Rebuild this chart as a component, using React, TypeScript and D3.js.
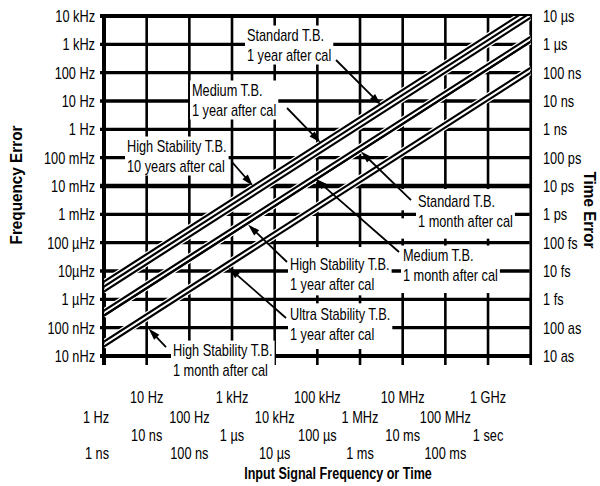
import React, { useEffect, useRef } from "react";
import * as d3 from "d3";

// ---- axis ticks (decades) ----
const errorTicks = [1e-8, 1e-7, 1e-6, 1e-5, 1e-4, 1e-3, 1e-2, 1e-1, 1, 10, 100, 1e3, 1e4];
const frequencyErrorLabels = ["10 nHz", "100 nHz", "1 µHz", "10µHz", "100 µHz", "1 mHz", "10 mHz", "100 mHz", "1 Hz", "10 Hz", "100 Hz", "1 kHz", "10 kHz"];
const timeErrorLabels = ["10 as", "100 as", "1 fs", "10 fs", "100 fs", "1 ps", "10 ps", "100 ps", "1 ns", "10 ns", "100 ns", "1 µs", "10 µs"];

const inputTicks = [1, 10, 100, 1e3, 1e4, 1e5, 1e6, 1e7, 1e8, 1e9, 1e10];
const inputFrequencyLabels = ["1 Hz", "10 Hz", "100 Hz", "1 kHz", "10 kHz", "100 kHz", "1 MHz", "10 MHz", "100 MHz", "1 GHz"];
const inputTimeLabels = ["1 ns", "10 ns", "100 ns", "1 µs", "10 µs", "100 µs", "1 ms", "10 ms", "100 ms", "1 sec"];

// ---- series: frequency error (Hz) at 1 Hz and at 10 GHz input ----
const seriesNames = [
  "Standard T.B. 1 year after cal",
  "Medium T.B. 1 year after cal",
  "High Stability T.B. 10 years after cal",
  "Standard T.B. 1 month after cal",
  "Medium T.B. 1 month after cal",
  "High Stability T.B. 1 year after cal",
  "Ultra Stability T.B. 1 year after cal",
  "High Stability T.B. 1 month after cal",
];
const errorAt1Hz = [4.25e-6, 2.83e-6, 1.88e-6, 4.03e-7, 2.68e-7, 2.68e-7, 3.24e-8, 2.16e-8];
const errorAt10GHz = [1.96e4, 1.31e4, 8.71e3, 1.86e3, 1.24e3, 1.24e3, 150, 100];

// ---- annotations (log10 of input Hz, log10 of error Hz) ----
const annotations = [
  { lines: ["Standard T.B.", "1 year after cal"], text: [3.351, 3.329], tail: [5.437, 2.447], tip: [6.492, 0.858] },
  { lines: ["Medium T.B.", "1 year after cal"], text: [2.062, 1.388], tail: [4.289, 0.753], tip: [5.074, -0.465] },
  { lines: ["High Stability T.B.", "10 years after cal"], text: [0.539, -0.589], tail: [3.0, -1.154], tip: [3.492, -2.0] },
  { lines: ["Standard T.B.", "1 month after cal"], text: [7.359, -2.53], tail: [7.195, -2.495], tip: [6.023, -0.783] },
  { lines: ["Medium T.B.", "1 month after cal"], text: [7.007, -4.436], tail: [6.914, -4.33], tip: [4.945, -1.736] },
  { lines: ["High Stability T.B.", "1 year after cal"], text: [4.359, -4.754], tail: [4.289, -4.683], tip: [3.375, -3.36] },
  { lines: ["Ultra Stability T.B.", "1 year after cal"], text: [4.359, -6.519], tail: [4.265, -6.66], tip: [2.918, -4.877] },
  { lines: ["High Stability T.B.", "1 month after cal"], text: [1.617, -7.79], tail: [1.453, -7.684], tip: [1.043, -7.031] },
];

// areas where the vertical grid is interrupted (log10 units)
const clearZones = [
  { x: [6.89, 10], y: [-2.107, -5.778] },
  { x: [4.289, 6.89], y: [-4.154, -7.754] },
];

const FONT = "'Liberation Sans', Arial, Helvetica, sans-serif";
const SX = 0.75;

export default function App() {
  const ref = useRef<SVGSVGElement>(null);

  useEffect(() => {
    const svg = d3.select(ref.current);
    svg.selectAll("*").remove();

    const left = 104, right = 530.7, top = 16, bottom = 356;
    const x = d3.scaleLog().domain([1, 1e10]).range([left, right]);
    const y = d3.scaleLog().domain([1e-8, 1e4]).range([bottom, top]);
    const X = (l: number) => x(Math.pow(10, l));
    const Y = (l: number) => y(Math.pow(10, l));

    const addText = (
      parent: any, str: string, px: number, py: number,
      opts: { anchor?: string; bold?: boolean; size?: number; sx?: number; rotate?: number } = {}
    ) => {
      const sx = opts.sx ?? SX;
      const t = parent.append("text")
        .attr("transform", `translate(${px},${py})${opts.rotate ? ` rotate(${opts.rotate})` : ""} scale(${sx},1)`)
        .attr("x", 0).attr("y", 0).attr("dy", "0.36em")
        .attr("text-anchor", opts.anchor ?? "start")
        .attr("font-family", FONT)
        .attr("font-size", opts.size ?? 17)
        .attr("font-weight", opts.bold ? "bold" : "normal")
        .attr("fill", "#000")
        .text(str);
      return t;
    };

    svg.append("defs").append("clipPath").attr("id", "plotClip")
      .append("rect").attr("x", left).attr("y", top).attr("width", right - left).attr("height", bottom - top);

    // ---- grid ----
    const grid = svg.append("g");
    grid.selectAll("line.v").data(inputTicks).join("line")
      .attr("x1", (d) => x(d)).attr("x2", (d) => x(d))
      .attr("y1", top - 2).attr("y2", 365)
      .attr("stroke", "#000")
      .attr("stroke-width", (d, i) => (i === 0 ? 4 : i === inputTicks.length - 1 ? 2.7 : 2.6));
    grid.selectAll("line.h").data(errorTicks).join("line")
      .attr("x1", 100).attr("x2", right)
      .attr("y1", (d) => y(d)).attr("y2", (d) => y(d))
      .attr("stroke", "#000")
      .attr("stroke-width", (d, i) => (i === 0 || i === errorTicks.length - 1 ? 4 : d === 1e-2 ? 4.6 : 3.4));

    // ---- zones with interrupted vertical grid ----
    const zg = svg.append("g");
    clearZones.forEach((z) => {
      const x0 = X(z.x[0]), x1 = Math.min(X(z.x[1]), right - 1.5);
      const y0 = Y(z.y[0]), y1 = Y(z.y[1]);
      zg.append("rect").attr("x", x0).attr("y", y0).attr("width", x1 - x0).attr("height", y1 - y0).attr("fill", "#fff");
      errorTicks.filter((d) => y(d) > y0 && y(d) < y1).forEach((d) => {
        zg.append("line").attr("x1", x0).attr("x2", x1).attr("y1", y(d)).attr("y2", y(d))
          .attr("stroke", "#000").attr("stroke-width", 3.4);
        inputTicks.filter((v) => x(v) > x0 && x(v) < x1).forEach((v) => {
          zg.append("line").attr("x1", x(v)).attr("x2", x(v)).attr("y1", y(d) - 4).attr("y2", y(d) + 4)
            .attr("stroke", "#000").attr("stroke-width", 2.6);
        });
      });
    });

    // ---- diagonal lines ----
    const series = seriesNames.map((name, i) => ({
      name,
      pts: [[1, errorAt1Hz[i]], [1e10, errorAt10GHz[i]]] as [number, number][],
    }));
    const lineGen = d3.line<[number, number]>().x((d) => x(d[0])).y((d) => y(d[1]));
    const lg = svg.append("g").attr("clip-path", "url(#plotClip)");
    lg.selectAll("path.halo").data(series).join("path")
      .attr("d", (d) => lineGen(d.pts)).attr("fill", "none")
      .attr("stroke", "#fff").attr("stroke-width", 4.6);
    lg.selectAll("path.ln").data(series).join("path")
      .attr("d", (d) => lineGen(d.pts)).attr("fill", "none")
      .attr("stroke", "#000").attr("stroke-width", 2.2);

    // ---- arrows ----
    const ag = svg.append("g");
    annotations.forEach((a) => {
      const tx = X(a.tail[0]), ty = Y(a.tail[1]);
      const hx = X(a.tip[0]), hy = Y(a.tip[1]);
      const dx = hx - tx, dy = hy - ty;
      const len = Math.hypot(dx, dy);
      const ux = dx / len, uy = dy / len;
      const headLen = 12, halfW = 3.6;
      const bx = hx - ux * headLen, by = hy - uy * headLen;
      ag.append("line").attr("x1", tx).attr("y1", ty).attr("x2", bx + ux * 2).attr("y2", by + uy * 2)
        .attr("stroke", "#000").attr("stroke-width", 1.8);
      ag.append("polygon")
        .attr("points", `${hx},${hy} ${bx - uy * halfW},${by + ux * halfW} ${bx + uy * halfW},${by - ux * halfW}`)
        .attr("fill", "#000");
    });

    // ---- annotation labels ----
    const LH = 20;
    annotations.forEach((a) => {
      const g = svg.append("g");
      const px = X(a.text[0]), py = Y(a.text[1]);
      const box = g.append("rect").attr("fill", "#fff");
      let maxW = 0;
      a.lines.forEach((s, i) => {
        const t = addText(g, s, px, py + i * LH);
        const w = (t.node() as SVGTextElement).getComputedTextLength() * SX;
        maxW = Math.max(maxW, w);
      });
      box.attr("x", px - 2).attr("y", py - 9.5).attr("width", maxW + 4).attr("height", (a.lines.length - 1) * LH + 19);
    });

    // ---- axis labels ----
    const ax = svg.append("g");
    errorTicks.forEach((d, i) => {
      addText(ax, frequencyErrorLabels[i], 95, y(d), { anchor: "end" });
      addText(ax, timeErrorLabels[i], 543, y(d), { anchor: "start" });
    });
    inputFrequencyLabels.forEach((s, i) => {
      const cx = x(inputTicks[i]) - (i === 0 ? 8 : 0);
      addText(ax, s, cx, i % 2 === 1 ? 397 : 417, { anchor: "middle" });
    });
    inputTimeLabels.forEach((s, i) => {
      const cx = x(inputTicks[i]) - (i === 0 ? 7 : 0);
      addText(ax, s, cx, i % 2 === 1 ? 435 : 452.5, { anchor: "middle" });
    });
    addText(ax, "Frequency Error", 16, 185, { anchor: "middle", bold: true, sx: 0.9, rotate: -90 });
    addText(ax, "Time Error", 590, 210, { anchor: "middle", bold: true, sx: 0.9, rotate: 90 });
    addText(ax, "Input Signal Frequency or Time", 338, 473, { anchor: "middle", bold: true, sx: 0.74 });
  }, []);

  return (
    <svg
      ref={ref}
      width={600}
      height={486}
      viewBox="0 0 600 486"
      style={{ position: "absolute", left: 0, top: 0, background: "#fff" }}
    />
  );
}
